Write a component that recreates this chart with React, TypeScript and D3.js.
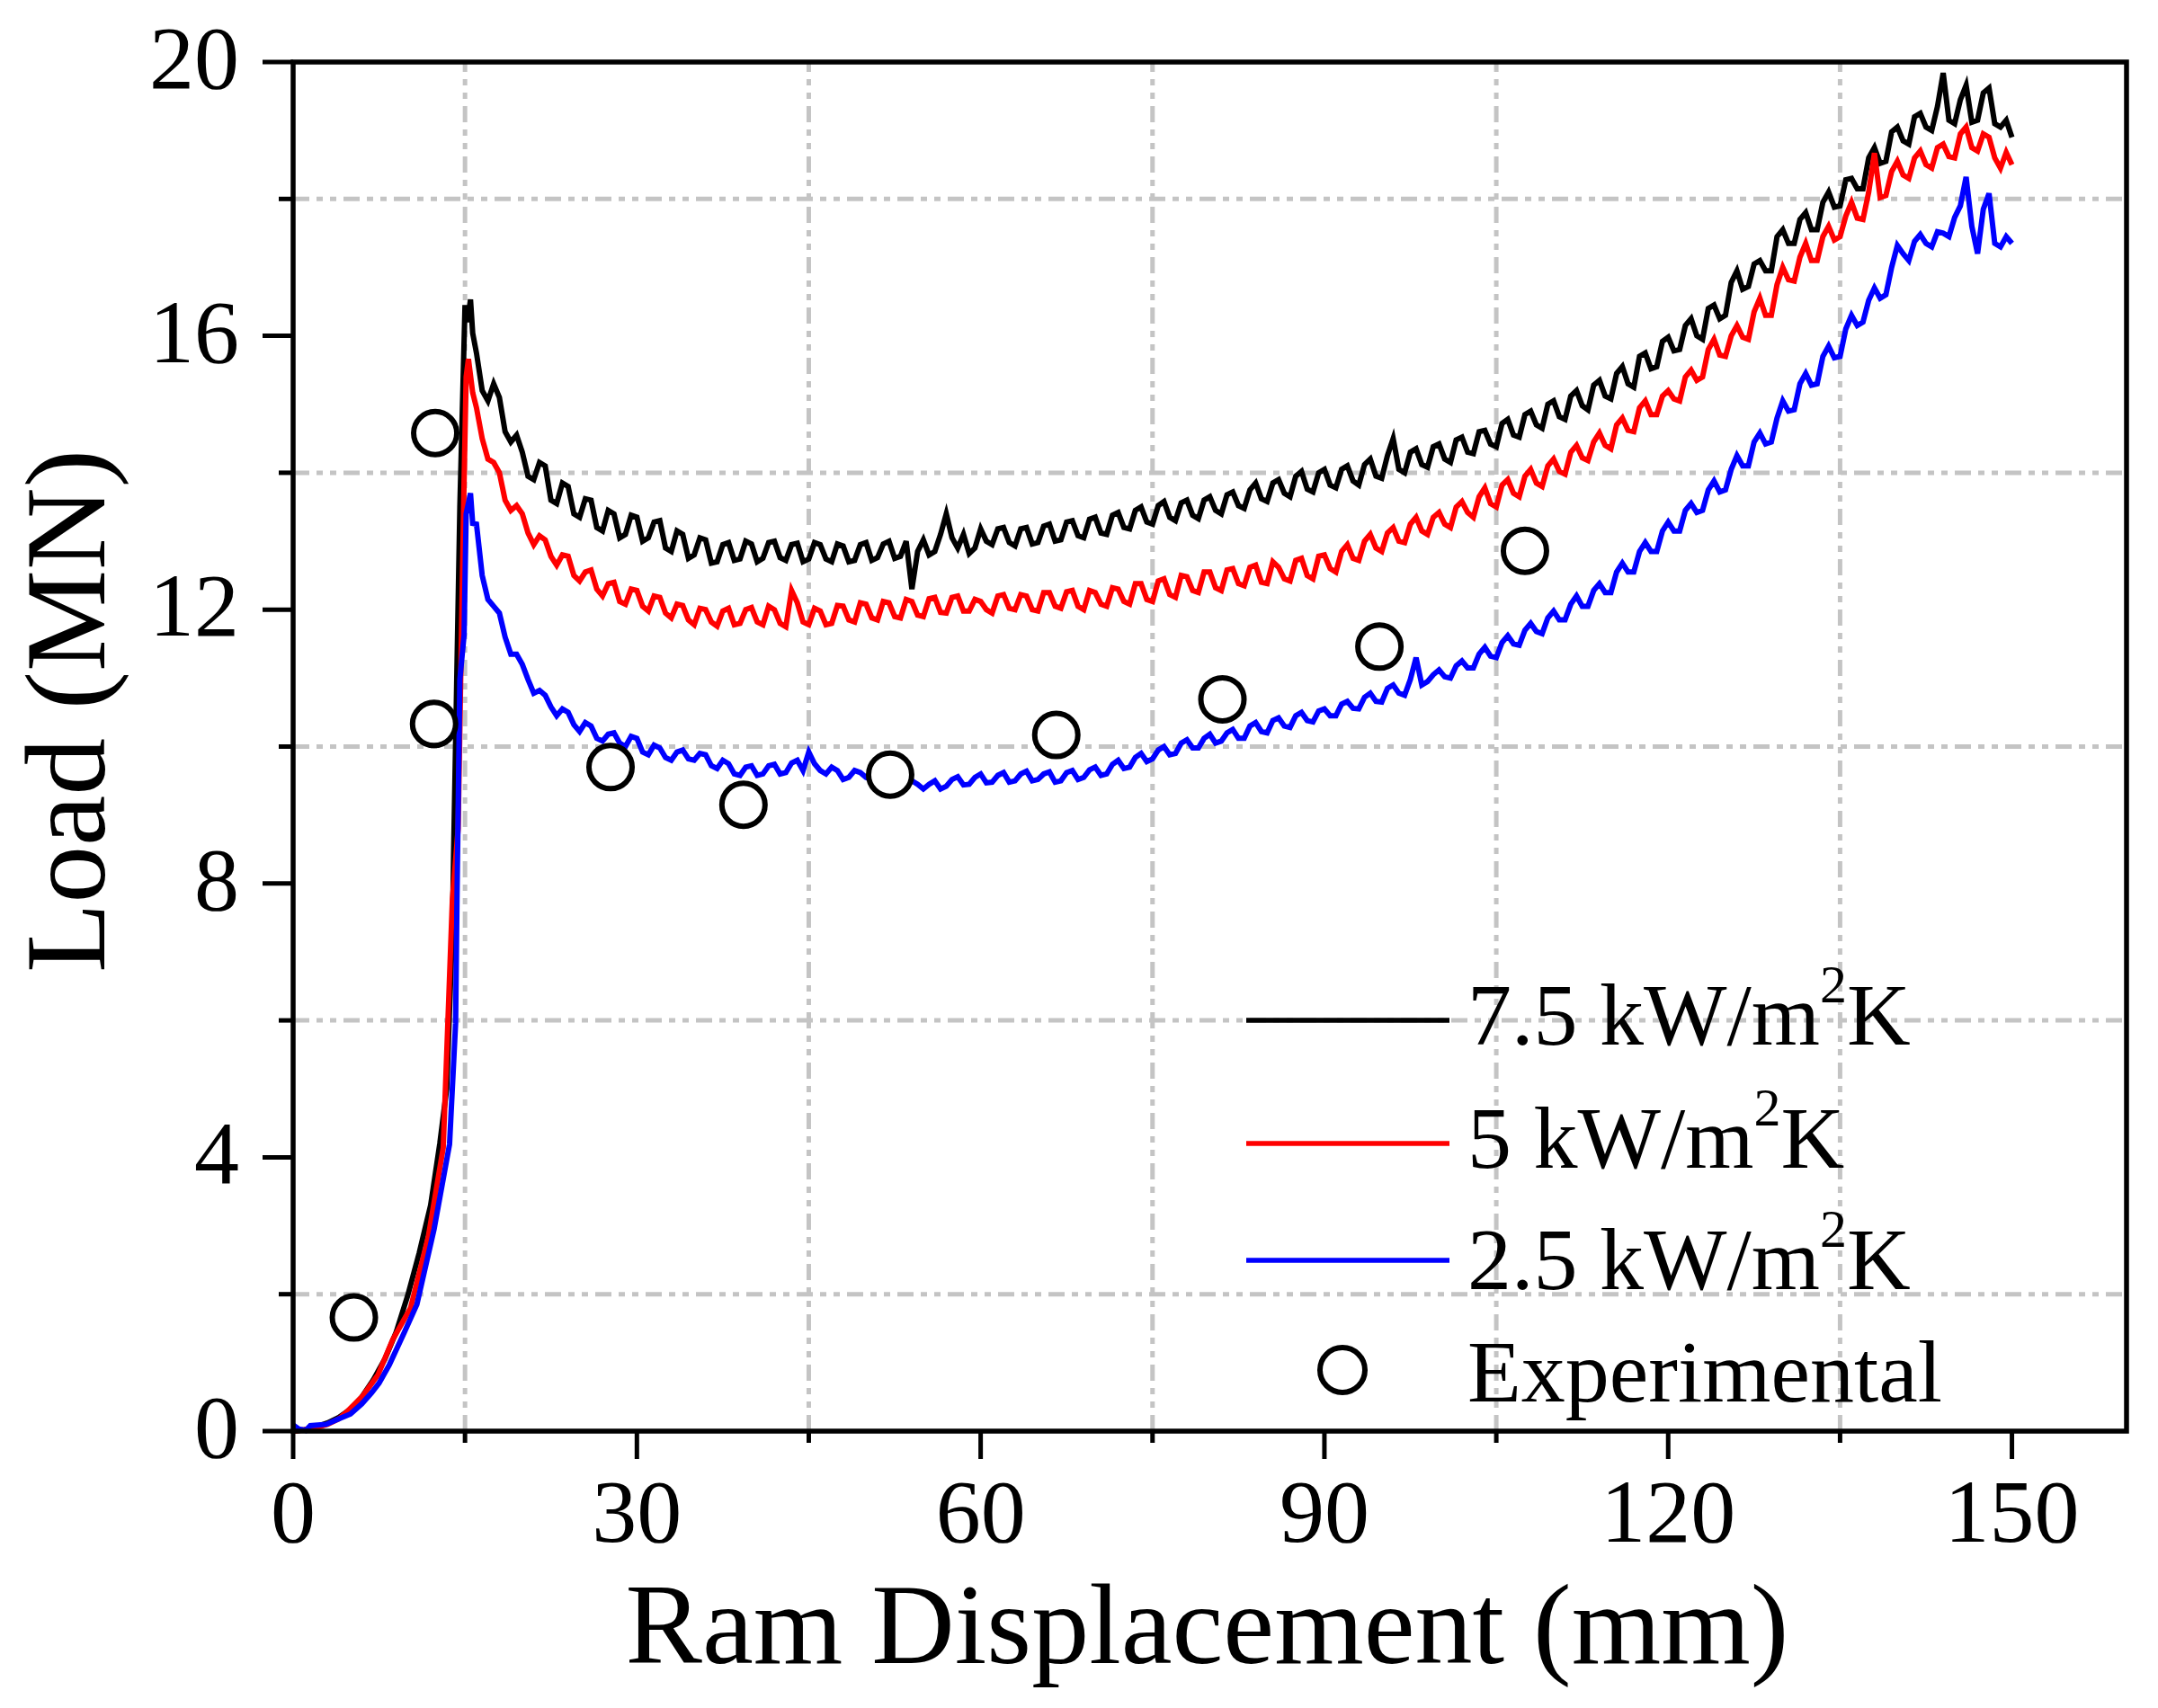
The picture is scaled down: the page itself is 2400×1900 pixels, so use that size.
import React from "react";
import * as d3 from "d3";

// ---------- data ----------
const X_MAJOR = [0, 30, 60, 90, 120, 150];
const X_MINOR = [15, 45, 75, 105, 135];
const Y_MAJOR = [0, 4, 8, 12, 16, 20];
const Y_MINOR = [2, 6, 10, 14, 18];

// displacement samples for the post-peak part (mm): whole and half millimetres
const DISP_TAIL = [
  16, 17, 18, 19, 20, 21, 22, 23, 24, 25, 26, 27, 28, 29, 30, 31, 32, 33, 34, 35,
  36, 37, 38, 39, 40, 41, 42, 43, 44, 45, 46, 47, 48, 49, 50, 51, 52, 53, 54, 55,
  56, 57, 58, 59, 60, 61, 62, 63, 64, 65, 66, 67, 68, 69, 70, 71, 72, 73, 74, 75,
  76, 77, 78, 79, 80, 81, 82, 83, 84, 85, 86, 87, 88, 89, 90, 91, 92, 93, 94, 95,
  96, 97, 98, 99, 100, 101, 102, 103, 104, 105, 106, 107, 108, 109, 110, 111, 112, 113, 114, 115,
  116, 117, 118, 119, 120, 121, 122, 123, 124, 125, 126, 127, 128, 129, 130, 131, 132, 133, 134, 135,
  136, 137, 138, 139, 140, 141, 142, 143, 144, 145, 146, 147, 148, 149, 150,
];
const DISP_HALF = [
  16.5, 17.5, 18.5, 19.5, 20.5, 21.5, 22.5, 23.5, 24.5, 25.5, 26.5, 27.5, 28.5, 29.5, 30.5, 31.5, 32.5, 33.5, 34.5, 35.5,
  36.5, 37.5, 38.5, 39.5, 40.5, 41.5, 42.5, 43.5, 44.5, 45.5, 46.5, 47.5, 48.5, 49.5, 50.5, 51.5, 52.5, 53.5, 54.5, 55.5,
  56.5, 57.5, 58.5, 59.5, 60.5, 61.5, 62.5, 63.5, 64.5, 65.5, 66.5, 67.5, 68.5, 69.5, 70.5, 71.5, 72.5, 73.5, 74.5, 75.5,
  76.5, 77.5, 78.5, 79.5, 80.5, 81.5, 82.5, 83.5, 84.5, 85.5, 86.5, 87.5, 88.5, 89.5, 90.5, 91.5, 92.5, 93.5, 94.5, 95.5,
  96.5, 97.5, 98.5, 99.5, 100.5, 101.5, 102.5, 103.5, 104.5, 105.5, 106.5, 107.5, 108.5, 109.5, 110.5, 111.5, 112.5, 113.5, 114.5, 115.5,
  116.5, 117.5, 118.5, 119.5, 120.5, 121.5, 122.5, 123.5, 124.5, 125.5, 126.5, 127.5, 128.5, 129.5, 130.5, 131.5, 132.5, 133.5, 134.5, 135.5,
  136.5, 137.5, 138.5, 139.5, 140.5, 141.5, 142.5, 143.5, 144.5, 145.5, 146.5, 147.5, 148.5, 149.5,
];

// 7.5 kW/m2K
const BLACK_HEAD_X = [0, 1, 2, 3, 4, 5, 6, 7, 8, 9, 10, 11, 12, 12.8, 13.4, 13.9, 14.0, 14.55, 15.0, 15.2, 15.48, 15.67];
const BLACK_HEAD_Y = [0, 0.02, 0.06, 0.12, 0.2, 0.32, 0.5, 0.75, 1.05, 1.45, 1.98, 2.6, 3.3, 4.2, 5.0, 7.3, 8.4, 13.5, 16.45, 16.2, 16.53, 16.04];
const BLACK_TAIL = [
  15.75, 15.05, 15.1, 14.45, 14.3, 13.9, 14.1, 13.55, 13.8, 13.35, 13.6, 13.15, 13.4, 13.1, 13.35, 13.05, 13.3, 12.85, 13.1, 12.8,
  13.02, 12.7, 12.98, 12.74, 12.96, 12.75, 13.0, 12.72, 12.97, 12.74, 12.95, 12.7, 12.93, 12.72, 12.98, 12.76, 13.0, 12.78, 12.3, 13.02,
  12.85, 13.4, 12.9, 12.82, 13.18, 12.95, 13.2, 12.93, 13.2, 12.98, 13.25, 13.02, 13.3, 13.05, 13.35, 13.1, 13.42, 13.18, 13.5, 13.25,
  13.58, 13.3, 13.6, 13.33, 13.65, 13.4, 13.72, 13.48, 13.85, 13.58, 13.9, 13.65, 14.02, 13.72, 14.05, 13.78, 14.1, 13.82, 14.2, 13.92,
  14.5, 14.0, 14.35, 14.08, 14.42, 14.15, 14.52, 14.28, 14.62, 14.38, 14.78, 14.52, 14.9, 14.65, 15.05, 14.78, 15.2, 14.92, 15.35, 15.08,
  15.55, 15.25, 15.75, 15.55, 15.98, 15.8, 16.25, 15.95, 16.45, 16.3, 16.95, 16.72, 17.1, 16.95, 17.55, 17.35, 17.8, 17.55, 18.1, 17.9,
  18.3, 18.15, 18.75, 18.55, 19.05, 18.8, 19.25, 19.0, 19.84, 19.1, 19.66, 19.15, 19.62, 19.05, 18.9,
];
const BLACK_HALF = [
  15.2, 15.3, 14.6, 14.55, 13.95, 14.15, 13.6, 13.85, 13.4, 13.62, 13.2, 13.45, 13.05, 13.38, 13.0, 13.28, 12.9, 13.15, 12.75, 13.05,
  12.68, 12.95, 12.72, 13.0, 12.7, 12.98, 12.76, 12.95, 12.7, 12.98, 12.74, 12.96, 12.7, 12.95, 12.72, 12.96, 12.75, 13.0, 12.85, 12.8,
  13.1, 13.05, 13.1, 12.9, 13.0, 13.18, 12.98, 13.18, 12.96, 13.22, 13.0, 13.28, 13.08, 13.32, 13.12, 13.38, 13.2, 13.45, 13.28, 13.52,
  13.35, 13.56, 13.38, 13.6, 13.45, 13.68, 13.52, 13.75, 13.62, 13.85, 13.7, 13.95, 13.76, 14.0, 13.82, 14.05, 13.88, 14.12, 13.95, 14.25,
  14.05, 14.3, 14.12, 14.38, 14.2, 14.48, 14.3, 14.6, 14.42, 14.72, 14.55, 14.85, 14.7, 15.0, 14.82, 15.12, 14.98, 15.28, 15.12, 15.45,
  15.3, 15.7, 15.52, 15.92, 15.78, 16.15, 16.0, 16.4, 16.25, 16.78, 16.68, 17.05, 16.95, 17.45, 17.35, 17.7, 17.55, 17.95, 17.88, 18.28,
  18.15, 18.6, 18.52, 18.98, 18.85, 19.2, 19.05, 19.35, 19.15, 19.45, 19.12, 19.55, 19.1, 19.15,
];

// 5 kW/m2K
const RED_HEAD_X = [0, 1, 2, 3, 4, 4.8, 6, 7.4, 8.7, 10.25, 11.8, 13.1, 13.9, 14.4, 14.9, 15.1, 15.3, 15.67];
const RED_HEAD_Y = [0, 0.02, 0.05, 0.1, 0.18, 0.3, 0.5, 0.82, 1.34, 1.8, 2.84, 4.14, 7.77, 8.8, 13.7, 15.4, 15.66, 15.17];
const RED_TAIL = [
  14.95, 14.2, 14.0, 13.45, 13.4, 12.95, 13.02, 12.65, 12.78, 12.42, 12.58, 12.2, 12.4, 12.08, 12.28, 11.98, 12.18, 11.88, 12.06, 11.78,
  12.0, 11.76, 12.02, 11.8, 12.03, 11.78, 12.0, 11.75, 12.1, 11.78, 11.98, 11.8, 12.05, 11.82, 12.08, 11.85, 12.1, 11.88, 12.12, 11.9,
  12.18, 11.95, 12.2, 11.98, 12.12, 11.95, 12.22, 12.0, 12.2, 11.98, 12.25, 12.02, 12.28, 12.0, 12.25, 12.05, 12.3, 12.08, 12.38, 12.12,
  12.45, 12.18, 12.48, 12.25, 12.55, 12.28, 12.6, 12.35, 12.65, 12.38, 12.62, 12.42, 12.75, 12.45, 12.8, 12.55, 12.95, 12.72, 13.1, 12.85,
  13.2, 12.98, 13.35, 13.1, 13.42, 13.2, 13.58, 13.35, 13.78, 13.5, 13.9, 13.65, 14.05, 13.8, 14.2, 13.98, 14.4, 14.18, 14.58, 14.35,
  14.8, 14.6, 15.05, 14.85, 15.2, 15.05, 15.5, 15.4, 15.95, 15.7, 16.15, 15.95, 16.55, 16.3, 17.0, 16.8, 17.35, 17.1, 17.6, 17.45,
  17.95, 17.7, 18.67, 18.05, 18.55, 18.3, 18.7, 18.45, 18.8, 18.6, 19.05, 18.7, 18.9, 18.45, 18.5,
];
const RED_HALF = [
  14.5, 14.15, 13.6, 13.52, 13.12, 13.08, 12.78, 12.8, 12.5, 12.55, 12.3, 12.38, 12.12, 12.3, 12.05, 12.2, 11.95, 12.08, 11.85, 12.02,
  11.82, 11.98, 11.78, 12.0, 11.82, 12.05, 11.8, 12.28, 11.82, 12.02, 11.78, 12.06, 11.85, 12.1, 11.88, 12.12, 11.9, 12.15, 11.92, 12.16,
  11.96, 12.18, 11.98, 12.15, 12.0, 12.2, 12.02, 12.22, 12.0, 12.25, 12.05, 12.26, 12.05, 12.28, 12.08, 12.32, 12.12, 12.38, 12.15, 12.42,
  12.22, 12.5, 12.28, 12.55, 12.32, 12.58, 12.38, 12.62, 12.4, 12.7, 12.45, 12.72, 12.5, 12.78, 12.6, 12.85, 12.75, 13.0, 12.9, 13.12,
  13.0, 13.25, 13.15, 13.35, 13.25, 13.5, 13.42, 13.65, 13.55, 13.82, 13.7, 13.95, 13.85, 14.1, 14.02, 14.3, 14.22, 14.45, 14.4, 14.7,
  14.62, 14.95, 14.85, 15.12, 15.08, 15.4, 15.35, 15.8, 15.72, 16.0, 15.98, 16.35, 16.3, 16.75, 16.82, 17.15, 17.1, 17.45, 17.4, 17.75,
  17.72, 18.1, 18.02, 18.4, 18.35, 18.6, 18.5, 18.75, 18.62, 18.95, 18.75, 18.95, 18.6, 18.68,
];

// 2.5 kW/m2K
const BLUE_HEAD_X = [0, 0.5, 1.1, 1.5, 2.9, 4.0, 5.0, 6.0, 6.85, 7.5, 8.4, 9.7, 10.8, 12.3, 13.65, 14.18, 14.3, 14.55, 14.92, 15.1, 15.48, 15.67];
const BLUE_HEAD_Y = [0.09, 0.03, 0.01, 0.08, 0.1, 0.18, 0.25, 0.4, 0.56, 0.7, 0.97, 1.44, 1.85, 2.95, 4.19, 5.96, 7.77, 10.98, 11.63, 13.4, 13.7, 13.26];
const BLUE_TAIL = [
  13.25, 12.15, 11.95, 11.35, 11.2, 10.78, 10.75, 10.45, 10.5, 10.22, 10.3, 10.08, 10.2, 10.0, 10.12, 9.88, 9.98, 9.8, 9.95, 9.8,
  9.88, 9.68, 9.75, 9.58, 9.72, 9.6, 9.74, 9.62, 9.8, 9.92, 9.65, 9.7, 9.52, 9.65, 9.55, 9.68, 9.52, 9.64, 9.5, 9.38,
  9.5, 9.42, 9.56, 9.45, 9.6, 9.48, 9.62, 9.5, 9.64, 9.52, 9.63, 9.5, 9.65, 9.55, 9.7, 9.6, 9.8, 9.7, 9.9, 9.82,
  10.0, 9.9, 10.1, 9.98, 10.18, 10.08, 10.25, 10.12, 10.35, 10.2, 10.42, 10.28, 10.5, 10.36, 10.55, 10.45, 10.66, 10.55, 10.78, 10.65,
  10.9, 10.75, 11.3, 10.95, 11.12, 11.0, 11.25, 11.15, 11.45, 11.3, 11.62, 11.48, 11.8, 11.65, 11.98, 11.85, 12.2, 12.05, 12.38, 12.25,
  12.68, 12.55, 12.98, 12.85, 13.28, 13.15, 13.55, 13.45, 13.88, 13.75, 14.25, 14.1, 14.58, 14.45, 15.05, 14.92, 15.45, 15.3, 15.85, 15.7,
  16.3, 16.2, 16.7, 16.6, 17.32, 17.1, 17.48, 17.3, 17.5, 17.73, 18.32, 17.2, 18.08, 17.3, 17.35,
];
const BLUE_HALF = [
  12.5, 12.05, 11.6, 11.35, 10.98, 10.82, 10.58, 10.55, 10.32, 10.35, 10.12, 10.18, 10.05, 10.15, 9.92, 10.02, 9.84, 9.92, 9.82, 9.9,
  9.72, 9.8, 9.6, 9.7, 9.58, 9.72, 9.6, 9.76, 9.65, 9.75, 9.6, 9.65, 9.55, 9.62, 9.52, 9.62, 9.5, 9.6, 9.45, 9.45,
  9.38, 9.52, 9.44, 9.55, 9.47, 9.58, 9.48, 9.6, 9.5, 9.6, 9.48, 9.62, 9.52, 9.66, 9.58, 9.74, 9.68, 9.84, 9.78, 9.95,
  9.88, 10.05, 9.98, 10.12, 10.05, 10.2, 10.12, 10.3, 10.22, 10.38, 10.3, 10.45, 10.38, 10.52, 10.45, 10.62, 10.56, 10.72, 10.66, 10.85,
  10.78, 10.98, 10.9, 11.05, 11.02, 11.18, 11.15, 11.35, 11.32, 11.52, 11.5, 11.7, 11.68, 11.88, 11.85, 12.08, 12.05, 12.28, 12.25, 12.55,
  12.55, 12.85, 12.85, 13.15, 13.15, 13.45, 13.42, 13.75, 13.72, 14.05, 14.1, 14.45, 14.42, 14.8, 14.9, 15.3, 15.28, 15.7, 15.68, 16.1,
  16.15, 16.52, 16.55, 17.0, 17.2, 17.38, 17.35, 17.52, 17.45, 17.9, 17.6, 17.85, 17.35, 17.45,
];

const EXP_X = [5.3, 12.4, 12.3, 27.7, 39.3, 52.1, 66.6, 81.1, 94.8, 107.5];
const EXP_Y = [1.66, 14.58, 10.33, 9.7, 9.15, 9.59, 10.17, 10.69, 11.46, 12.86];

const SERIES_NAMES = ["7.5", "5", "2.5"];
const SERIES_COLORS = ["#000000", "#ff0000", "#0000ff"];

// ---------- layout ----------
const W = 2400;
const H = 1900;
const M = { left: 326, right: 2365, top: 69, bottom: 1592 };
const FONT = "'Liberation Serif', 'Times New Roman', serif";

function buildSeries(hx: number[], hy: number[], tail: number[], half: number[]): [number, number][] {
  const pts: [number, number][] = hx.map((x, i) => [x, hy[i]]);
  const rest: [number, number][] = [];
  DISP_TAIL.forEach((x, i) => rest.push([x, tail[i]]));
  DISP_HALF.forEach((x, i) => rest.push([x, half[i]]));
  rest.sort((a, b) => a[0] - b[0]);
  return pts.concat(rest);
}

export default function App() {
  const x = d3.scaleLinear().domain([0, 160]).range([M.left, M.right]);
  const y = d3.scaleLinear().domain([0, 20]).range([M.bottom, M.top]);
  const line = d3
    .line<[number, number]>()
    .x((d) => x(d[0]))
    .y((d) => y(d[1]));

  const series = [
    buildSeries(BLACK_HEAD_X, BLACK_HEAD_Y, BLACK_TAIL, BLACK_HALF),
    buildSeries(RED_HEAD_X, RED_HEAD_Y, RED_TAIL, RED_HALF),
    buildSeries(BLUE_HEAD_X, BLUE_HEAD_Y, BLUE_TAIL, BLUE_HALF),
  ];

  const gridStyle = {
    stroke: "#c4c4c4",
    strokeWidth: 5,
    strokeDasharray: "18 8 7 8 7 8",
    fill: "none",
  };
  const axisW = 5.5;

  const legendX0 = 1386;
  const legendX1 = 1612;
  const legendTextX = 1632;
  const legendBaselines = [1162, 1299, 1434];
  const legendLineY = [1135, 1272, 1402];

  return (
    <div style={{ position: "absolute", left: 0, top: 0 }}>
      <svg width={W} height={H} style={{ display: "block", background: "#fff" }} fontFamily={FONT}>
        <rect x={0} y={0} width={W} height={H} fill="#fff" />
        {/* grid */}
        {X_MINOR.map((v) => (
          <line key={"gx" + v} x1={x(v)} x2={x(v)} y1={y(0)} y2={y(20)} style={gridStyle} />
        ))}
        {Y_MINOR.map((v) => (
          <line key={"gy" + v} x1={x(0)} x2={x(160)} y1={y(v)} y2={y(v)} style={gridStyle} />
        ))}

        {/* curves */}
        {series.map((s, i) => (
          <path
            key={"s" + i}
            d={line(s) || ""}
            fill="none"
            stroke={SERIES_COLORS[i]}
            strokeWidth={6}
            strokeLinejoin="miter"
          />
        ))}

        {/* experimental */}
        {EXP_X.map((v, i) => (
          <circle key={"e" + i} cx={x(v)} cy={y(EXP_Y[i])} r={24} fill="#fff" stroke="#000" strokeWidth={6} />
        ))}

        {/* frame */}
        <rect
          x={M.left}
          y={M.top}
          width={M.right - M.left}
          height={M.bottom - M.top}
          fill="none"
          stroke="#000"
          strokeWidth={axisW}
        />

        {/* x ticks */}
        {X_MAJOR.map((v) => (
          <g key={"xt" + v}>
            <line x1={x(v)} x2={x(v)} y1={M.bottom} y2={M.bottom + 31} stroke="#000" strokeWidth={5} />
            <text x={x(v)} y={1715} fontSize={100} textAnchor="middle" fill="#000">
              {v}
            </text>
          </g>
        ))}
        {X_MINOR.map((v) => (
          <line key={"xm" + v} x1={x(v)} x2={x(v)} y1={M.bottom} y2={M.bottom + 13} stroke="#000" strokeWidth={5} />
        ))}

        {/* y ticks */}
        {Y_MAJOR.map((v) => (
          <g key={"yt" + v}>
            <line x1={M.left - 34} x2={M.left} y1={y(v)} y2={y(v)} stroke="#000" strokeWidth={5} />
            <text x={266} y={y(v) + 29} fontSize={100} textAnchor="end" fill="#000">
              {v}
            </text>
          </g>
        ))}
        {Y_MINOR.map((v) => (
          <line key={"ym" + v} x1={M.left - 16} x2={M.left} y1={y(v)} y2={y(v)} stroke="#000" strokeWidth={5} />
        ))}

        {/* axis titles */}
        <text x={(M.left + M.right) / 2 - 3} y={1850} fontSize={128} textAnchor="middle" fill="#000">
          Ram Displacement (mm)
        </text>
        <text
          transform={`translate(116, 791) rotate(-90)`}
          fontSize={127}
          textAnchor="middle"
          fill="#000"
        >
          Load (MN)
        </text>

        {/* legend */}
        {SERIES_NAMES.map((name, i) => (
          <g key={"lg" + i}>
            <line
              x1={legendX0}
              x2={legendX1}
              y1={legendLineY[i]}
              y2={legendLineY[i]}
              stroke={SERIES_COLORS[i]}
              strokeWidth={5.5}
            />
            <text x={legendTextX} y={legendBaselines[i]} fontSize={98} fill="#000">
              {name + " kW/m"}
              <tspan dy={-47} fontSize={60}>
                2
              </tspan>
              <tspan dy={47}>K</tspan>
            </text>
          </g>
        ))}
        <circle cx={1493} cy={1524} r={25} fill="#fff" stroke="#000" strokeWidth={6} />
        <text x={legendTextX} y={1559} fontSize={98} fill="#000">
          Experimental
        </text>
      </svg>
    </div>
  );
}
